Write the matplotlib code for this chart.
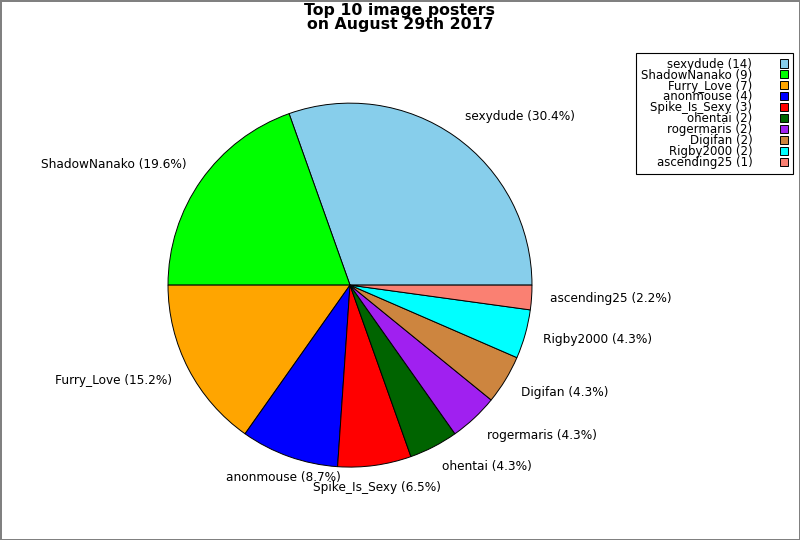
import matplotlib
matplotlib.use('Agg')
import numpy as np
import matplotlib.pyplot as plt

names = ['sexydude', 'ShadowNanako', 'Furry_Love', 'anonmouse', 'Spike_Is_Sexy',
         'ohentai', 'rogermaris', 'Digifan', 'Rigby2000', 'ascending25']
counts = [14, 9, 7, 4, 3, 2, 2, 2, 2, 1]
colors = ['#87CEEB', '#00FF00', '#FFA500', '#0000FF', '#FF0000',
          '#006400', '#A020F0', '#CD853F', '#00FFFF', '#FA8072']

total = sum(counts)
pie_labels = ['%s (%.1f%%)' % (n, 100.0 * c / total) for n, c in zip(names, counts)]
legend_labels = ['%s (%d)' % (n, c) for n, c in zip(names, counts)]

fig = plt.figure(figsize=(8, 5.4), dpi=100, edgecolor='gray', linewidth=2)
ax = fig.add_axes([0.21, 0.135, 0.455, 0.674])

wedges, texts = ax.pie(counts, labels=pie_labels, colors=colors, startangle=0,
                       counterclock=True, labeldistance=1.1,
                       wedgeprops={'edgecolor': 'black', 'linewidth': 0.7},
                       textprops={'fontsize': 8.7})
# labels near the bottom/top are centred on their anchor and pushed a bit outwards
for w, t in zip(wedges, texts):
    mid = np.deg2rad((w.theta1 + w.theta2) / 2)
    s = np.sin(mid)
    if abs(np.cos(mid)) < 0.4:
        t.set_ha('center')
    t.set_va('center')
    x, y = t.get_position()
    if s > 0.4:
        y += 0.03
    elif s < -0.4:
        y -= 0.02
    t.set_position((x, y))

ax.set_xlim(-1, 1)
ax.set_ylim(-1, 1)
ax.set_aspect('equal')
ax.axis('off')

fig.suptitle('Top 10 image posters\non August 29th 2017', x=0.5, y=0.995,
             fontsize=11.3, fontweight='bold', linespacing=0.9)

leg = fig.legend(wedges, legend_labels, loc='upper right',
                 bbox_to_anchor=(0.991, 0.902), bbox_transform=fig.transFigure,
                 borderaxespad=0, markerfirst=False, fancybox=False,
                 edgecolor='black', framealpha=1, fontsize=8.5,
                 handlelength=0.68, handleheight=0.68, labelspacing=-0.175,
                 handletextpad=2.35, borderpad=0.4)
leg.get_frame().set_linewidth(0.8)
for t in leg.get_texts():
    t.set_ha('right')

fig.savefig('out.png', dpi=100, edgecolor=fig.get_edgecolor())
